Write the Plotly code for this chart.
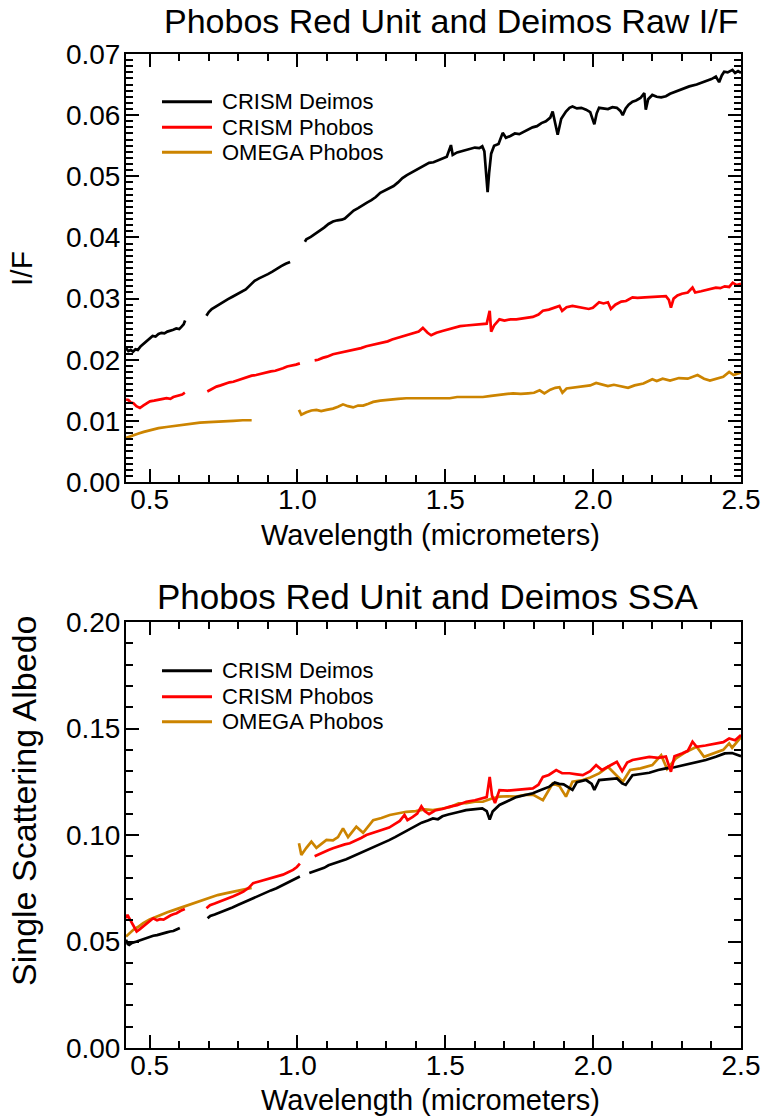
import plotly.graph_objects as go

# ---------------- DATA ----------------
# Top panel: raw I/F
deimos_if_wl_1 = [0.420, 0.428, 0.436, 0.444, 0.452, 0.460, 0.470, 0.480, 0.490, 0.500, 0.510, 0.520, 0.530, 0.540, 0.550, 0.560, 0.570, 0.580, 0.590, 0.600, 0.608, 0.615, 0.620]
deimos_if_1 = [0.0219, 0.0214, 0.0216, 0.0213, 0.0217, 0.0216, 0.0222, 0.0226, 0.0231, 0.0235, 0.0239, 0.0238, 0.0242, 0.0244, 0.0243, 0.0246, 0.0247, 0.0249, 0.0251, 0.0250, 0.0254, 0.0258, 0.0264]
deimos_if_wl_2 = [0.692, 0.700, 0.710, 0.720, 0.735, 0.750, 0.765, 0.780, 0.795, 0.810, 0.825, 0.840, 0.855, 0.870, 0.885, 0.900, 0.915, 0.930, 0.945, 0.960, 0.975]
deimos_if_2 = [0.0272, 0.0278, 0.0283, 0.0286, 0.0291, 0.0295, 0.0299, 0.0303, 0.0307, 0.0311, 0.0315, 0.0322, 0.0329, 0.0333, 0.0336, 0.0340, 0.0344, 0.0349, 0.0353, 0.0357, 0.0360]
deimos_if_wl_3 = [1.025, 1.030, 1.045, 1.060, 1.075, 1.090, 1.105, 1.120, 1.135, 1.150, 1.160, 1.175, 1.190, 1.205, 1.220, 1.235, 1.250, 1.265, 1.280, 1.295, 1.310, 1.325, 1.340, 1.355, 1.370, 1.385, 1.400, 1.415, 1.430, 1.445, 1.460, 1.475, 1.490, 1.505, 1.519, 1.525, 1.540, 1.555, 1.570, 1.585, 1.600, 1.615, 1.625, 1.632, 1.638, 1.643, 1.648, 1.655, 1.665, 1.680, 1.694, 1.705, 1.720, 1.735, 1.750, 1.765, 1.780, 1.795, 1.810, 1.825, 1.840, 1.855, 1.863, 1.870, 1.880, 1.892, 1.908, 1.920, 1.930, 1.945, 1.960, 1.976, 1.990, 2.004, 2.012, 2.020, 2.035, 2.050, 2.065, 2.080, 2.092, 2.100, 2.110, 2.120, 2.133, 2.145, 2.160, 2.173, 2.178, 2.186, 2.200, 2.215, 2.230, 2.246, 2.260, 2.280, 2.300, 2.325, 2.350, 2.381, 2.400, 2.415, 2.426, 2.435, 2.443, 2.455, 2.471, 2.480, 2.490, 2.500]
deimos_if_3 = [0.0393, 0.0397, 0.0401, 0.0406, 0.0410, 0.0416, 0.0422, 0.0426, 0.0428, 0.0429, 0.0431, 0.0438, 0.0444, 0.0448, 0.0453, 0.0457, 0.0461, 0.0466, 0.0473, 0.0477, 0.0480, 0.0484, 0.0490, 0.0497, 0.0502, 0.0506, 0.0510, 0.0514, 0.0519, 0.0522, 0.0523, 0.0526, 0.0529, 0.0532, 0.0551, 0.0535, 0.0539, 0.0541, 0.0544, 0.0545, 0.0547, 0.0546, 0.0549, 0.0541, 0.0510, 0.0474, 0.0505, 0.0537, 0.0550, 0.0553, 0.0571, 0.0563, 0.0566, 0.0570, 0.0569, 0.0573, 0.0577, 0.0580, 0.0582, 0.0587, 0.0590, 0.0596, 0.0606, 0.0590, 0.0568, 0.0594, 0.0606, 0.0612, 0.0614, 0.0611, 0.0612, 0.0609, 0.0605, 0.0585, 0.0603, 0.0612, 0.0611, 0.0610, 0.0613, 0.0612, 0.0607, 0.0600, 0.0611, 0.0617, 0.0622, 0.0624, 0.0628, 0.0636, 0.0609, 0.0626, 0.0633, 0.0630, 0.0629, 0.0631, 0.0635, 0.0639, 0.0642, 0.0647, 0.0650, 0.0655, 0.0659, 0.0663, 0.0654, 0.0665, 0.0671, 0.0670, 0.0674, 0.0669, 0.0672, 0.0669]

phobos_if_wl_1 = [0.420, 0.428, 0.436, 0.445, 0.455, 0.467, 0.478, 0.490, 0.501, 0.515, 0.530, 0.545, 0.557, 0.570, 0.580, 0.590, 0.600, 0.610, 0.619]
phobos_if_1 = [0.0135, 0.0134, 0.0130, 0.0129, 0.0124, 0.0121, 0.0125, 0.0128, 0.0132, 0.0133, 0.0135, 0.0136, 0.0137, 0.0136, 0.0139, 0.0140, 0.0141, 0.0143, 0.0146]
phobos_if_wl_2 = [0.695, 0.710, 0.726, 0.740, 0.755, 0.770, 0.783, 0.800, 0.815, 0.830, 0.845, 0.860, 0.875, 0.895, 0.910, 0.925, 0.940, 0.951, 0.965, 0.980, 0.995, 1.008]
phobos_if_2 = [0.0148, 0.0152, 0.0156, 0.0158, 0.0161, 0.0163, 0.0164, 0.0167, 0.0170, 0.0172, 0.0174, 0.0175, 0.0177, 0.0179, 0.0181, 0.0182, 0.0184, 0.0186, 0.0189, 0.0190, 0.0192, 0.0194]
phobos_if_wl_3 = [1.058, 1.070, 1.085, 1.100, 1.120, 1.140, 1.160, 1.177, 1.195, 1.215, 1.233, 1.250, 1.270, 1.289, 1.305, 1.320, 1.340, 1.357, 1.375, 1.395, 1.410, 1.424, 1.440, 1.452, 1.470, 1.490, 1.515, 1.530, 1.550, 1.571, 1.590, 1.610, 1.627, 1.640, 1.650, 1.655, 1.665, 1.683, 1.700, 1.720, 1.740, 1.760, 1.780, 1.796, 1.815, 1.830, 1.850, 1.870, 1.886, 1.895, 1.910, 1.930, 1.950, 1.970, 1.985, 1.999, 2.020, 2.035, 2.050, 2.060, 2.075, 2.095, 2.111, 2.133, 2.150, 2.175, 2.200, 2.225, 2.246, 2.256, 2.263, 2.272, 2.285, 2.300, 2.320, 2.336, 2.345, 2.365, 2.390, 2.415, 2.430, 2.445, 2.460, 2.472, 2.485, 2.500]
phobos_if_3 = [0.0199, 0.0200, 0.0203, 0.0205, 0.0209, 0.0211, 0.0213, 0.0214, 0.0216, 0.0219, 0.0222, 0.0224, 0.0226, 0.0228, 0.0230, 0.0233, 0.0236, 0.0238, 0.0240, 0.0243, 0.0246, 0.0252, 0.0244, 0.0240, 0.0244, 0.0247, 0.0250, 0.0252, 0.0255, 0.0256, 0.0257, 0.0258, 0.0258, 0.0259, 0.0280, 0.0246, 0.0256, 0.0266, 0.0264, 0.0266, 0.0266, 0.0267, 0.0268, 0.0270, 0.0274, 0.0280, 0.0282, 0.0285, 0.0288, 0.0280, 0.0286, 0.0288, 0.0286, 0.0285, 0.0283, 0.0285, 0.0294, 0.0292, 0.0294, 0.0283, 0.0290, 0.0295, 0.0296, 0.0302, 0.0301, 0.0302, 0.0303, 0.0304, 0.0304, 0.0298, 0.0285, 0.0300, 0.0305, 0.0308, 0.0310, 0.0318, 0.0310, 0.0312, 0.0315, 0.0318, 0.0317, 0.0320, 0.0319, 0.0326, 0.0322, 0.0324]

omega_if_wl_1 = [0.420, 0.440, 0.460, 0.480, 0.501, 0.530, 0.557, 0.585, 0.613, 0.640, 0.670, 0.700, 0.726, 0.755, 0.783, 0.815, 0.845]
omega_if_1 = [0.0072, 0.0076, 0.0079, 0.0082, 0.0085, 0.0088, 0.0090, 0.0092, 0.0094, 0.0095, 0.0097, 0.0098, 0.0099, 0.0100, 0.0100, 0.0101, 0.0101]
omega_if_wl_2 = [1.005, 1.013, 1.030, 1.047, 1.064, 1.080, 1.098, 1.120, 1.137, 1.154, 1.171, 1.188, 1.205, 1.222, 1.240, 1.256, 1.280, 1.312, 1.340, 1.368, 1.400, 1.430, 1.458, 1.490, 1.515, 1.540, 1.571, 1.600, 1.627, 1.655, 1.683, 1.710, 1.729, 1.755, 1.780, 1.800, 1.819, 1.835, 1.855, 1.872, 1.886, 1.896, 1.910, 1.930, 1.965, 1.990, 2.010, 2.030, 2.050, 2.070, 2.095, 2.118, 2.140, 2.170, 2.200, 2.215, 2.235, 2.260, 2.290, 2.320, 2.353, 2.375, 2.395, 2.420, 2.440, 2.460, 2.475, 2.500]
omega_if_2 = [0.0118, 0.0110, 0.0114, 0.0117, 0.0118, 0.0116, 0.0118, 0.0120, 0.0123, 0.0127, 0.0124, 0.0122, 0.0125, 0.0125, 0.0128, 0.0131, 0.0133, 0.0135, 0.0136, 0.0137, 0.0137, 0.0138, 0.0138, 0.0138, 0.0137, 0.0139, 0.0139, 0.0140, 0.0139, 0.0141, 0.0143, 0.0144, 0.0145, 0.0144, 0.0145, 0.0146, 0.0150, 0.0145, 0.0151, 0.0154, 0.0155, 0.0146, 0.0153, 0.0154, 0.0156, 0.0158, 0.0162, 0.0160, 0.0157, 0.0159, 0.0157, 0.0154, 0.0158, 0.0161, 0.0168, 0.0165, 0.0169, 0.0166, 0.0170, 0.0169, 0.0175, 0.0169, 0.0166, 0.0169, 0.0172, 0.0180, 0.0175, 0.0179]

# Bottom panel: single scattering albedo
deimos_ssa_wl_1 = [0.420, 0.426, 0.431, 0.440, 0.456, 0.467, 0.478, 0.490, 0.501, 0.512, 0.525, 0.535, 0.547, 0.558, 0.569, 0.580, 0.591, 0.602]
deimos_ssa_1 = [0.0508, 0.0488, 0.0484, 0.0493, 0.0500, 0.0506, 0.0511, 0.0515, 0.0524, 0.0527, 0.0530, 0.0535, 0.0538, 0.0543, 0.0547, 0.0549, 0.0556, 0.0563]
deimos_ssa_wl_2 = [0.696, 0.705, 0.720, 0.740, 0.760, 0.780, 0.800, 0.817, 0.835, 0.855, 0.873, 0.890, 0.910, 0.929, 0.950, 0.970, 0.990, 1.008]
deimos_ssa_2 = [0.0609, 0.0620, 0.0627, 0.0637, 0.0648, 0.0660, 0.0672, 0.0683, 0.0694, 0.0706, 0.0719, 0.0730, 0.0740, 0.0750, 0.0765, 0.0779, 0.0793, 0.0805]
deimos_ssa_wl_3 = [1.040, 1.058, 1.075, 1.090, 1.105, 1.120, 1.140, 1.165, 1.185, 1.205, 1.220, 1.233, 1.250, 1.270, 1.289, 1.310, 1.330, 1.346, 1.365, 1.385, 1.402, 1.420, 1.441, 1.458, 1.475, 1.490, 1.510, 1.524, 1.545, 1.570, 1.595, 1.625, 1.640, 1.650, 1.660, 1.683, 1.710, 1.740, 1.770, 1.796, 1.825, 1.852, 1.870, 1.885, 1.900, 1.915, 1.930, 1.945, 1.976, 1.995, 2.004, 2.020, 2.050, 2.080, 2.098, 2.110, 2.133, 2.160, 2.190, 2.220, 2.246, 2.275, 2.300, 2.325, 2.355, 2.381, 2.415, 2.445, 2.470, 2.488, 2.500]
deimos_ssa_3 = [0.0822, 0.0830, 0.0838, 0.0846, 0.0858, 0.0866, 0.0874, 0.0886, 0.0898, 0.0912, 0.0922, 0.0930, 0.0940, 0.0950, 0.0963, 0.0976, 0.0990, 0.1002, 0.1018, 0.1030, 0.1045, 0.1058, 0.1068, 0.1078, 0.1074, 0.1088, 0.1096, 0.1102, 0.1108, 0.1117, 0.1121, 0.1125, 0.1112, 0.1072, 0.1110, 0.1141, 0.1158, 0.1178, 0.1188, 0.1196, 0.1212, 0.1227, 0.1246, 0.1240, 0.1238, 0.1226, 0.1212, 0.1248, 0.1258, 0.1240, 0.1212, 0.1258, 0.1262, 0.1266, 0.1242, 0.1235, 0.1281, 0.1286, 0.1292, 0.1305, 0.1313, 0.1318, 0.1326, 0.1336, 0.1344, 0.1352, 0.1367, 0.1383, 0.1385, 0.1376, 0.1370]

phobos_ssa_wl_1 = [0.420, 0.425, 0.430, 0.436, 0.445, 0.456, 0.467, 0.478, 0.490, 0.501, 0.512, 0.525, 0.535, 0.547, 0.558, 0.570, 0.580, 0.591, 0.605, 0.619]
phobos_ssa_1 = [0.0609, 0.0625, 0.0612, 0.0598, 0.0570, 0.0547, 0.0558, 0.0570, 0.0585, 0.0598, 0.0609, 0.0600, 0.0605, 0.0603, 0.0614, 0.0622, 0.0628, 0.0633, 0.0644, 0.0652]
phobos_ssa_wl_2 = [0.692, 0.704, 0.720, 0.740, 0.760, 0.783, 0.800, 0.817, 0.835, 0.850, 0.870, 0.890, 0.906, 0.925, 0.940, 0.951, 0.970, 0.985, 0.998, 1.008]
phobos_ssa_2 = [0.0656, 0.0670, 0.0678, 0.0688, 0.0699, 0.0712, 0.0723, 0.0734, 0.0752, 0.0774, 0.0782, 0.0790, 0.0797, 0.0804, 0.0808, 0.0814, 0.0826, 0.0836, 0.0850, 0.0866]
phobos_ssa_wl_3 = [1.058, 1.075, 1.090, 1.105, 1.120, 1.140, 1.160, 1.177, 1.195, 1.215, 1.233, 1.250, 1.270, 1.289, 1.310, 1.330, 1.346, 1.362, 1.372, 1.390, 1.405, 1.419, 1.430, 1.445, 1.465, 1.490, 1.515, 1.540, 1.571, 1.600, 1.627, 1.640, 1.650, 1.658, 1.668, 1.683, 1.710, 1.740, 1.770, 1.796, 1.815, 1.830, 1.850, 1.875, 1.895, 1.920, 1.945, 1.965, 1.990, 2.010, 2.030, 2.050, 2.080, 2.098, 2.115, 2.133, 2.160, 2.190, 2.220, 2.246, 2.263, 2.275, 2.300, 2.320, 2.336, 2.350, 2.380, 2.415, 2.440, 2.460, 2.480, 2.500]
phobos_ssa_3 = [0.0900, 0.0912, 0.0922, 0.0930, 0.0938, 0.0948, 0.0956, 0.0961, 0.0972, 0.0986, 0.1000, 0.1008, 0.1015, 0.1023, 0.1035, 0.1052, 0.1066, 0.1094, 0.1070, 0.1085, 0.1100, 0.1135, 0.1112, 0.1098, 0.1115, 0.1122, 0.1133, 0.1140, 0.1156, 0.1163, 0.1172, 0.1178, 0.1273, 0.1185, 0.1150, 0.1211, 0.1208, 0.1212, 0.1215, 0.1219, 0.1236, 0.1273, 0.1282, 0.1305, 0.1290, 0.1290, 0.1285, 0.1281, 0.1300, 0.1328, 0.1305, 0.1320, 0.1344, 0.1300, 0.1340, 0.1352, 0.1360, 0.1367, 0.1362, 0.1368, 0.1297, 0.1370, 0.1383, 0.1395, 0.1438, 0.1414, 0.1420, 0.1430, 0.1436, 0.1453, 0.1445, 0.1469]

omega_ssa_wl_1 = [0.420, 0.433, 0.445, 0.460, 0.478, 0.500, 0.515, 0.535, 0.560, 0.591, 0.620, 0.647, 0.675, 0.704, 0.730, 0.760, 0.790, 0.817, 0.845]
omega_ssa_1 = [0.0523, 0.0540, 0.0555, 0.0568, 0.0586, 0.0603, 0.0612, 0.0625, 0.0637, 0.0652, 0.0666, 0.0680, 0.0694, 0.0708, 0.0718, 0.0727, 0.0735, 0.0742, 0.0752]
omega_ssa_wl_2 = [1.005, 1.013, 1.030, 1.047, 1.064, 1.081, 1.098, 1.120, 1.137, 1.154, 1.171, 1.199, 1.222, 1.256, 1.284, 1.312, 1.340, 1.368, 1.400, 1.430, 1.458, 1.490, 1.515, 1.545, 1.571, 1.600, 1.627, 1.655, 1.683, 1.710, 1.740, 1.770, 1.796, 1.830, 1.863, 1.886, 1.908, 1.930, 1.965, 1.990, 2.020, 2.050, 2.070, 2.100, 2.125, 2.160, 2.200, 2.230, 2.250, 2.280, 2.314, 2.350, 2.375, 2.410, 2.440, 2.460, 2.470, 2.500]
omega_ssa_2 = [0.0961, 0.0906, 0.0940, 0.0969, 0.0940, 0.0958, 0.0977, 0.0975, 0.0990, 0.1031, 0.0990, 0.1039, 0.1010, 0.1070, 0.1080, 0.1094, 0.1100, 0.1109, 0.1112, 0.1120, 0.1117, 0.1125, 0.1130, 0.1149, 0.1149, 0.1156, 0.1156, 0.1170, 0.1180, 0.1182, 0.1180, 0.1188, 0.1190, 0.1164, 0.1242, 0.1230, 0.1180, 0.1250, 0.1258, 0.1270, 0.1289, 0.1320, 0.1290, 0.1250, 0.1305, 0.1313, 0.1328, 0.1375, 0.1310, 0.1360, 0.1390, 0.1414, 0.1367, 0.1383, 0.1400, 0.1430, 0.1410, 0.1460]

series_names = ["CRISM Deimos", "CRISM Phobos", "OMEGA Phobos"]
series_colors = ["#000000", "#FF0000", "#CC8400"]

titles = ["Phobos Red Unit and Deimos Raw I/F", "Phobos Red Unit and Deimos SSA"]
y_titles = ["I/F", "Single Scattering Albedo"]
x_title = "Wavelength (micrometers)"
x_ticks = [0.5, 1.0, 1.5, 2.0, 2.5]
y_ticks_top = [0.00, 0.01, 0.02, 0.03, 0.04, 0.05, 0.06, 0.07]
y_ticks_bot = [0.00, 0.05, 0.10, 0.15, 0.20]


def join(*segs):
    out = []
    for i, s in enumerate(segs):
        if i:
            out.append(None)
        out.extend(s)
    return out


W, H = 762, 1118
def px(x):
    return x / W
def py(y):
    return 1 - y / H

FONT = "Liberation Sans, Arial, sans-serif"

fig = go.Figure()

panels = [
    ("x", "y", [
        (join(omega_if_wl_1, omega_if_wl_2), join(omega_if_1, omega_if_2), 2),
        (join(deimos_if_wl_1, deimos_if_wl_2, deimos_if_wl_3), join(deimos_if_1, deimos_if_2, deimos_if_3), 0),
        (join(phobos_if_wl_1, phobos_if_wl_2, phobos_if_wl_3), join(phobos_if_1, phobos_if_2, phobos_if_3), 1),
    ]),
    ("x2", "y2", [
        (join(omega_ssa_wl_1, omega_ssa_wl_2), join(omega_ssa_1, omega_ssa_2), 2),
        (join(deimos_ssa_wl_1, deimos_ssa_wl_2, deimos_ssa_wl_3), join(deimos_ssa_1, deimos_ssa_2, deimos_ssa_3), 0),
        (join(phobos_ssa_wl_1, phobos_ssa_wl_2, phobos_ssa_wl_3), join(phobos_ssa_1, phobos_ssa_2, phobos_ssa_3), 1),
    ]),
]
for xa, ya, trs in panels:
    for xs, ys, k in trs:
        fig.add_trace(go.Scatter(x=xs, y=ys, mode="lines", xaxis=xa, yaxis=ya,
                                 line=dict(color=series_colors[k], width=2.7),
                                 connectgaps=False, showlegend=False,
                                 name=series_names[k]))

xdom = [px(126), px(741)]
top_dom = [py(482), py(54)]
bot_dom = [py(1048), py(622)]

tickfont = dict(family=FONT, size=28, color="black")
common_x = dict(range=[0.42, 2.5], tickvals=x_ticks, tickformat=".1f", ticks="inside",
                ticklen=13, tickwidth=1.5, tickcolor="black", showline=True, linewidth=2,
                linecolor="black", mirror="allticks", showgrid=False, zeroline=False,
                tickfont=tickfont, domain=xdom, ticklabeloverflow="allow",
                ticklabelstandoff=-9,
                minor=dict(dtick=0.1, ticks="inside", ticklen=7, tickwidth=1.5, tickcolor="black"))
common_y = dict(ticks="inside", ticklen=13, tickwidth=1.5, tickcolor="black", showline=True,
                linewidth=2, linecolor="black", mirror="allticks", showgrid=False,
                zeroline=False, tickfont=tickfont, tickformat=".2f", ticklabeloverflow="allow",
                ticklabelstandoff=-2)

fig.update_layout(
    width=W, height=H, margin=dict(l=0, r=0, t=0, b=0, autoexpand=False),
    paper_bgcolor="white", plot_bgcolor="white", showlegend=False,
    xaxis=dict(**common_x, anchor="y"),
    xaxis2=dict(**common_x, anchor="y2"),
    yaxis=dict(**common_y, range=[0, 0.07], tickvals=y_ticks_top, domain=top_dom, anchor="x",
               minor=dict(dtick=0.001, ticks="inside", ticklen=7, tickwidth=1.5, tickcolor="black")),
    yaxis2=dict(**common_y, range=[0, 0.2], tickvals=y_ticks_bot, domain=bot_dom, anchor="x2",
                minor=dict(dtick=0.01, ticks="inside", ticklen=7, tickwidth=1.5, tickcolor="black")),
)

ann = []
# titles
ann.append(dict(text=titles[0], x=px(162), y=py(21), xanchor="left", yanchor="middle",
                font=dict(family=FONT, size=34, color="black")))
ann.append(dict(text=titles[1], x=px(155), y=py(596), xanchor="left", yanchor="middle",
                font=dict(family=FONT, size=35, color="black")))
# x titles
for yy in (535, 1100):
    ann.append(dict(text=x_title, x=px(431), y=py(yy), xanchor="center", yanchor="middle",
                    font=dict(family=FONT, size=29, color="black")))
# y titles
ann.append(dict(text=y_titles[0], x=px(22), y=py(269), xanchor="center", yanchor="middle",
                textangle=-90, font=dict(family=FONT, size=30, color="black")))
ann.append(dict(text=y_titles[1], x=px(24), y=py(801), xanchor="center", yanchor="middle",
                textangle=-90, font=dict(family=FONT, size=34, color="black")))

shapes = []
# manual legends
for rows in ([101.7, 127.3, 152.3], [670.7, 696.7, 721.7]):
    for k, yy in enumerate(rows):
        shapes.append(dict(type="line", xref="paper", yref="paper", x0=px(162), x1=px(212),
                           y0=py(yy), y1=py(yy), line=dict(color=series_colors[k], width=3)))
        ann.append(dict(text=series_names[k], x=px(220), y=py(yy), xanchor="left",
                        yanchor="middle", font=dict(family=FONT, size=22, color="black")))

for a in ann:
    a.update(xref="paper", yref="paper", showarrow=False)
fig.update_layout(annotations=ann, shapes=shapes)

fig.write_html("out.html", config={"displayModeBar": False},
               post_script="document.body.style.margin='0';")
